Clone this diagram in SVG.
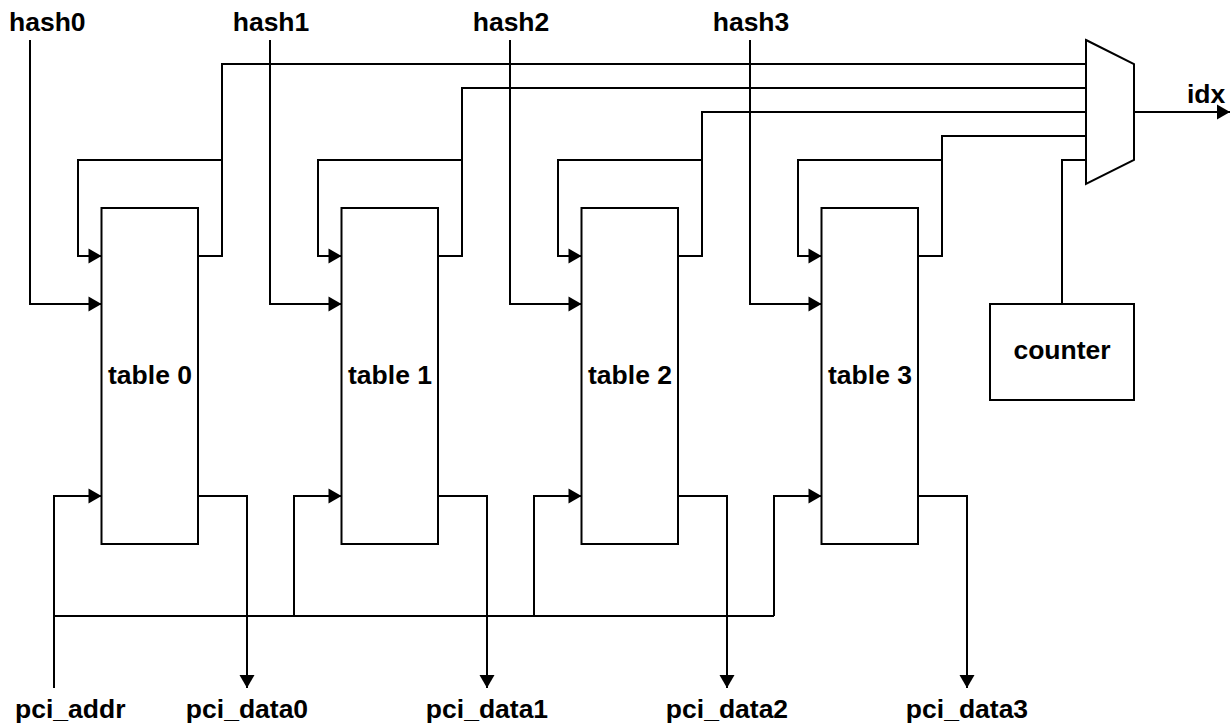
<svg xmlns="http://www.w3.org/2000/svg" width="1232" height="725" viewBox="0 0 1232 725">
<style>
.box{fill:#fff;stroke:#000;stroke-width:2}
.w{fill:none;stroke:#000;stroke-width:2;stroke-linejoin:miter}
.a{marker-end:url(#arr)}
.t{font-family:"Liberation Sans",Arial,sans-serif;font-weight:bold;font-size:26.5px;fill:#000}
.m{text-anchor:middle}
</style>
<defs>
<marker id="arr" markerUnits="userSpaceOnUse" markerWidth="14" markerHeight="16" refX="13" refY="7.5" orient="auto" overflow="visible">
<path d="M0,0 L13,7.5 L0,15 Z" fill="#000"/>
</marker>
</defs>
<rect width="1232" height="725" fill="#fff"/>
<g id="connectors">
<path class="w a" d="M30,40 V304 H101.5"/>
<path class="w a" d="M270,40 V304 H341.5"/>
<path class="w a" d="M510,40 V304 H581.5"/>
<path class="w a" d="M750,40 V304 H821.5"/>
<path class="w a" d="M222,160 H78 V256 H101.5"/>
<path class="w a" d="M462,160 H318 V256 H341.5"/>
<path class="w a" d="M702,160 H558 V256 H581.5"/>
<path class="w a" d="M942,160 H798 V256 H821.5"/>
<path class="w" d="M198,256 H222 V64 H1086"/>
<path class="w" d="M438,256 H462 V88 H1086"/>
<path class="w" d="M678,256 H702 V112 H1086"/>
<path class="w" d="M918,256 H942 V136 H1086"/>
<path class="w" d="M1062,304 V160 H1086"/>
<path class="w a" d="M1134,112 H1230"/>
<path class="w a" d="M54,688 V496 H101.5"/>
<path class="w" d="M54,616 H774"/>
<path class="w a" d="M294,616 V496 H341.5"/>
<path class="w a" d="M534,616 V496 H581.5"/>
<path class="w a" d="M774,616 V496 H821.5"/>
<path class="w a" d="M198,496 H247 V688"/>
<path class="w a" d="M438,496 H487 V688"/>
<path class="w a" d="M678,496 H727 V688"/>
<path class="w a" d="M918,496 H967 V688"/>
</g>
<g id="table0"><rect class="box" x="101.5" y="208" width="96.5" height="336"/><text class="t m" x="150" y="384">table 0</text></g>
<g id="table1"><rect class="box" x="341.5" y="208" width="96.5" height="336"/><text class="t m" x="390" y="384">table 1</text></g>
<g id="table2"><rect class="box" x="581.5" y="208" width="96.5" height="336"/><text class="t m" x="630" y="384">table 2</text></g>
<g id="table3"><rect class="box" x="821.5" y="208" width="96.5" height="336"/><text class="t m" x="870" y="384">table 3</text></g>
<g id="mux"><polygon class="box" points="1086,40 1134,64 1134,160 1086,184"/></g>
<g id="counter"><rect class="box" x="990" y="304" width="144" height="96"/><text class="t m" x="1062" y="359">counter</text></g>
<g id="labels">
<text class="t" x="9" y="31">hash0</text>
<text class="t m" x="271" y="31">hash1</text>
<text class="t m" x="511" y="31">hash2</text>
<text class="t m" x="751" y="31">hash3</text>
<text class="t" x="1187" y="103">idx</text>
<text class="t" x="15" y="718">pci_addr</text>
<text class="t m" x="247" y="718">pci_data0</text>
<text class="t m" x="487" y="718">pci_data1</text>
<text class="t m" x="727" y="718">pci_data2</text>
<text class="t m" x="967" y="718">pci_data3</text>
</g>
</svg>
